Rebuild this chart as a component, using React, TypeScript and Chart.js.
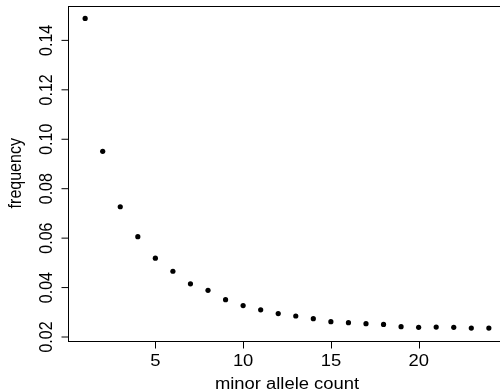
import React, { useEffect, useRef } from "react";
import { Chart, registerables } from "chart.js";

Chart.register(...registerables);

const counts = [1, 2, 3, 4, 5, 6, 7, 8, 9, 10, 11, 12, 13, 14, 15, 16, 17, 18, 19, 20, 21, 22, 23, 24];
const freq = [
  0.1489, 0.0951, 0.0727, 0.0606, 0.0519, 0.0466, 0.0415, 0.0389, 0.0351, 0.0327, 0.031, 0.0295,
  0.0285, 0.0274, 0.0262, 0.0258, 0.0254, 0.0251, 0.0242, 0.0239, 0.024, 0.0239, 0.0236, 0.0236,
];
const xTicks = [5, 10, 15, 20];
const yTicks = [0.02, 0.04, 0.06, 0.08, 0.1, 0.12, 0.14];
const yTickLabels = ["0.02", "0.04", "0.06", "0.08", "0.10", "0.12", "0.14"];
const xTitle = "minor allele count";
const yTitle = "frequency";

// R-style 4% axis extension
const xMinD = Math.min(...counts);
const xMaxD = Math.max(...counts);
const yMinD = Math.min(...freq);
const yMaxD = Math.max(...freq);
const xPad = (xMaxD - xMinD) * 0.04;
const yPad = (yMaxD - yMinD) * 0.04;

const FONT = "16px 'Liberation Sans', Arial, sans-serif";
const HSTRETCH = 1.15;

const rAxesPlugin = {
  id: "rAxes",
  afterDraw(chart: any) {
    const ctx = chart.ctx as CanvasRenderingContext2D;
    const { left, right, top, bottom } = chart.chartArea;
    const xs = chart.scales.x;
    const ys = chart.scales.y;
    ctx.save();
    ctx.strokeStyle = "#000";
    ctx.lineWidth = 1;
    const L = Math.round(left) - 0.5;
    const T = Math.round(top) + 0.5;
    const B = Math.round(bottom) + 0.5;
    const R = Math.round(right) + 0.5;
    ctx.strokeRect(L, T, R - L, B - T);
    const tl = 7;
    ctx.beginPath();
    xTicks.forEach((v) => {
      const px = Math.round(xs.getPixelForValue(v)) + 0.5;
      ctx.moveTo(px, B);
      ctx.lineTo(px, B + tl);
    });
    yTicks.forEach((v) => {
      const py = ys.getPixelForValue(v);
      ctx.moveTo(L, py);
      ctx.lineTo(L - tl, py);
    });
    ctx.stroke();
    ctx.fillStyle = "#000";
    ctx.font = FONT;
    ctx.textAlign = "center";
    ctx.textBaseline = "alphabetic";
    xTicks.forEach((v) => {
      const px = xs.getPixelForValue(v);
      ctx.save();
      ctx.translate(px, B + 24.5);
      ctx.scale(HSTRETCH, 1);
      ctx.fillText(String(v), 0, 0);
      ctx.restore();
    });
    yTicks.forEach((v, i) => {
      const py = ys.getPixelForValue(v);
      ctx.save();
      ctx.translate(L - 16.5, py);
      ctx.rotate(-Math.PI / 2);
      ctx.scale(1, HSTRETCH);
      ctx.fillText(yTickLabels[i], 0, 0);
      ctx.restore();
    });
    ctx.save();
    ctx.translate((left + right) / 2, 389);
    ctx.scale(HSTRETCH, 1);
    ctx.fillText(xTitle, 0, 0);
    ctx.restore();
    ctx.save();
    ctx.translate(21, (top + bottom) / 2);
    ctx.rotate(-Math.PI / 2);
    ctx.scale(1, HSTRETCH);
    ctx.fillText(yTitle, 0, 0);
    ctx.restore();
    ctx.restore();
  },
};

export default function App() {
  const ref = useRef<HTMLCanvasElement>(null);
  useEffect(() => {
    if (!ref.current) return;
    const chart = new Chart(ref.current, {
      type: "scatter",
      data: {
        datasets: [
          {
            data: counts.map((c, i) => ({ x: c, y: freq[i] })),
            backgroundColor: "#000",
            borderWidth: 0,
            pointRadius: 2.6,
            pointHoverRadius: 2.6,
          },
        ],
      },
      options: {
        responsive: false,
        animation: false,
        devicePixelRatio: 1,
        layout: { padding: { left: 69, top: 6, right: 15, bottom: 49.5 } },
        plugins: { legend: { display: false }, tooltip: { enabled: false } },
        scales: {
          x: { type: "linear", display: false, min: xMinD - xPad, max: xMaxD + xPad },
          y: { type: "linear", display: false, min: yMinD - yPad, max: yMaxD + yPad },
        },
      },
      plugins: [rAxesPlugin],
    });
    return () => chart.destroy();
  }, []);
  return (
    <div
      style={{
        position: "absolute",
        left: 0,
        top: 0,
        width: 500,
        height: 390,
        overflow: "hidden",
        background: "#fff",
      }}
    >
      <canvas ref={ref} width={520} height={390} style={{ width: 520, height: 390, display: "block" }} />
    </div>
  );
}
